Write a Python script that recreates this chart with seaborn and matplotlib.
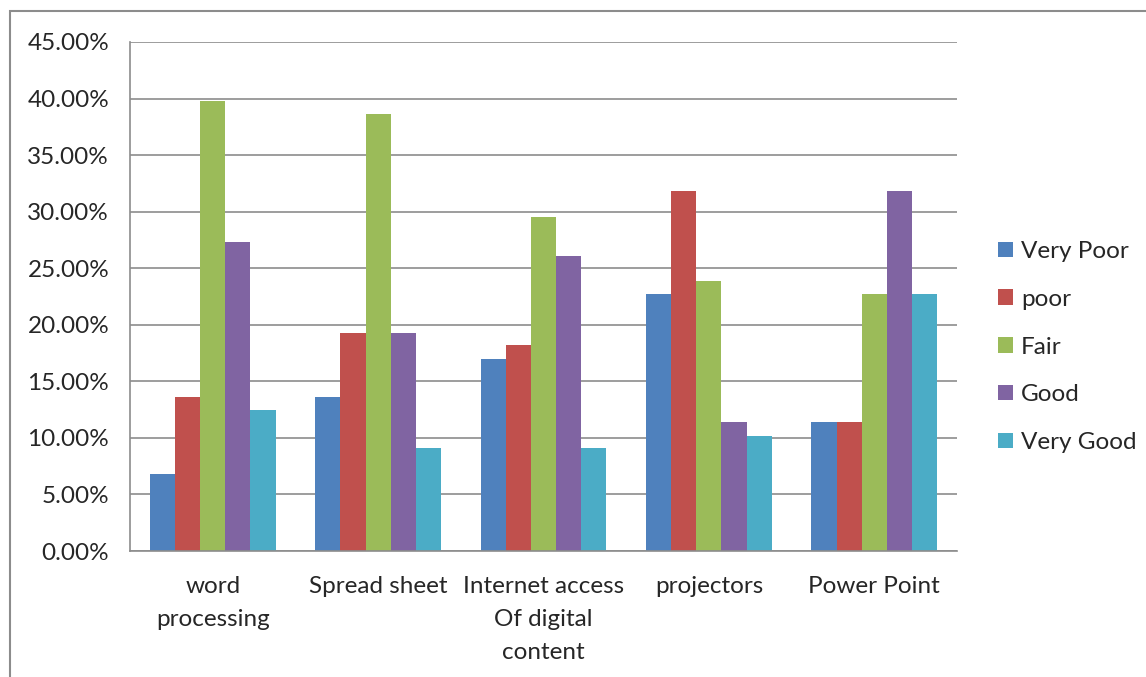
import pandas as pd
import seaborn as sns
import matplotlib.pyplot as plt
from matplotlib.patches import Rectangle
from matplotlib.ticker import FixedLocator, PercentFormatter

# data (percent)
categories = ['word\nprocessing', 'Spread sheet', 'Internet access\nOf digital\ncontent',
              'projectors', 'Power Point']
levels = ['Very Poor', 'poor', 'Fair', 'Good', 'Very Good']
very_poor = [6.8, 13.6, 17.0, 22.7, 11.4]
poor = [13.6, 19.3, 18.2, 31.8, 11.4]
fair = [39.8, 38.6, 29.5, 23.9, 22.7]
good = [27.3, 19.3, 26.1, 11.4, 31.8]
very_good = [12.5, 9.1, 9.1, 10.2, 22.7]

colors = ['#4F81BD', '#C0504D', '#9BBB59', '#8064A2', '#4BACC6']

df = pd.DataFrame({'category': categories, 'Very Poor': very_poor, 'poor': poor,
                   'Fair': fair, 'Good': good, 'Very Good': very_good})
df = df.melt(id_vars='category', value_vars=levels, var_name='rating', value_name='pct')

sns.set_style('white')
plt.rcParams['font.family'] = ['Lato', 'DejaVu Sans']

fig = plt.figure(figsize=(11.46, 6.77), dpi=100)
W, H = 1146, 677
ax = fig.add_axes([130 / W, 1 - 551 / H, (957 - 130) / W, (551 - 42) / H])

sns.barplot(data=df, x='category', y='pct', hue='rating', hue_order=levels,
            palette=colors, width=0.76, gap=0, saturation=1, linewidth=0, ax=ax)

ax.set_ylim(0, 45)
ax.set_xlim(-0.5, 4.5)
ax.yaxis.set_major_locator(FixedLocator([0, 5, 10, 15, 20, 25, 30, 35, 40, 45]))
ax.yaxis.set_major_formatter(PercentFormatter(decimals=2))
ax.grid(axis='y', color='#8c8c8c', linewidth=1.2)
ax.set_axisbelow(True)
ax.set_xlabel('')
ax.set_ylabel('')

for s in ['top', 'right']:
    ax.spines[s].set_visible(False)
for s in ['left', 'bottom']:
    ax.spines[s].set_color('#8c8c8c')
    ax.spines[s].set_linewidth(1.2)

fs = 17.5
ax.tick_params(axis='y', length=7, width=1.2, color='#8c8c8c', direction='out',
               labelsize=fs, pad=8)
ax.tick_params(axis='x', which='major', length=0, labelsize=fs, pad=18)
ax.set_xticks([-0.5, 0.5, 1.5, 2.5, 3.5, 4.5], minor=True)
ax.tick_params(axis='x', which='minor', length=7, width=1.2, color='#8c8c8c', direction='out')
for lab in ax.get_xticklabels():
    lab.set_linespacing(1.7)
    lab.set_verticalalignment('top')

ax.legend(loc='center left', bbox_to_anchor=(998 / W, 1 - 347 / H),
          bbox_transform=fig.transFigure, frameon=False, fontsize=fs,
          borderpad=0, borderaxespad=0,
          handlelength=0.6, handleheight=0.6, handletextpad=0.35, labelspacing=1.1)

# outer chart border
fig.patches.append(Rectangle((10 / W, -0.1), 1.2, 1 - 11 / H + 0.1,
                             transform=fig.transFigure, fill=False,
                             edgecolor='#8c8c8c', linewidth=1.5))

fig.savefig('out.png', dpi=100)
